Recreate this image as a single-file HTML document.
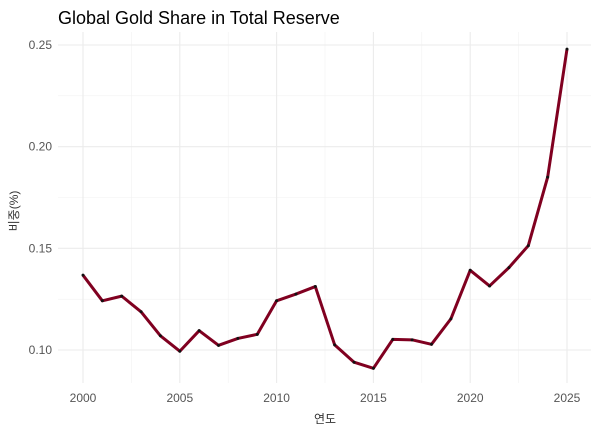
<!DOCTYPE html>
<html><head><meta charset="utf-8"><style>
body{margin:0;background:#fff;font-family:"Liberation Sans","Noto Sans CJK KR",sans-serif}
</style></head><body>
<svg id="chart" width="600" height="431" xmlns="http://www.w3.org/2000/svg">
<text x="58" y="24" font-size="18" fill="#000">Global Gold Share in Total Reserve</text>
<g id="grid"></g><g id="ticks"></g>
<text x="325" y="423" font-size="12" text-anchor="middle" fill="#333">연도</text>
<text transform="translate(18,211) rotate(-90)" font-size="12" text-anchor="middle" fill="#333">비중(%)</text>
<g id="series"></g>
</svg>
<script>
const years=[2000,2001,2002,2003,2004,2005,2006,2007,2008,2009,2010,2011,2012,2013,2014,2015,2016,2017,2018,2019,2020,2021,2022,2023,2024,2025];
const shares=[0.1368,0.1242,0.1265,0.1188,0.1070,0.0994,0.1095,0.1023,0.1057,0.1077,0.1242,0.1275,0.1312,0.1025,0.0940,0.0910,0.1052,0.1050,0.1028,0.1153,0.1392,0.1315,0.1405,0.1513,0.1850,0.2480];
const xTicks=[2000,2005,2010,2015,2020,2025];
const yTicks=[0.10,0.15,0.20,0.25];
const xMinor=[2002.5,2007.5,2012.5,2017.5,2022.5];
const yMinor=[0.125,0.175,0.225];
const NS="http://www.w3.org/2000/svg";
const L=58,R=591,T=32,B=383;
const xs=v=>83+(v-2000)*(567-83)/25;
const ys=v=>350-(v-0.10)*(350-45)/0.15;
const grid=document.getElementById('grid'),ticks=document.getElementById('ticks'),ser=document.getElementById('series');
function line(p,x1,y1,x2,y2,c,w){const l=document.createElementNS(NS,'line');l.setAttribute('x1',x1);l.setAttribute('y1',y1);l.setAttribute('x2',x2);l.setAttribute('y2',y2);l.setAttribute('stroke',c);l.setAttribute('stroke-width',w);p.appendChild(l);return l;}
function text(p,x,y,s,a){const t=document.createElementNS(NS,'text');t.setAttribute('x',x);t.setAttribute('y',y);t.setAttribute('font-size','12');t.setAttribute('fill','#555');t.setAttribute('text-anchor',a);t.textContent=s;p.appendChild(t);return t;}
yMinor.forEach(v=>{const l=line(grid,L,ys(v),R,ys(v),'#f2f2f2',0.6);

});
xMinor.forEach(v=>{const l=line(grid,xs(v),T,xs(v),B,'#f2f2f2',0.6);

});
yTicks.forEach(v=>{const l=line(grid,L,ys(v),R,ys(v),'#ebebeb',1.1);


const t=text(ticks,52,ys(v)+4,v.toFixed(2),'end');

});
xTicks.forEach(v=>{const l=line(grid,xs(v),T,xs(v),B,'#ebebeb',1.1);


const t=text(ticks,xs(v),402,String(v),'middle');

});
const pl=document.createElementNS(NS,'polyline');
pl.setAttribute('points',years.map((y,i)=>xs(y)+','+ys(shares[i])).join(' '));
pl.setAttribute('fill','none');pl.setAttribute('stroke','#800020');pl.setAttribute('stroke-width','3');pl.setAttribute('stroke-linejoin','round');


ser.appendChild(pl);
years.forEach((y,i)=>{const c=document.createElementNS(NS,'circle');c.setAttribute('cx',xs(y));c.setAttribute('cy',ys(shares[i]));c.setAttribute('r','1.5');c.setAttribute('fill','#111');


ser.appendChild(c);});
</script>
</body></html>
